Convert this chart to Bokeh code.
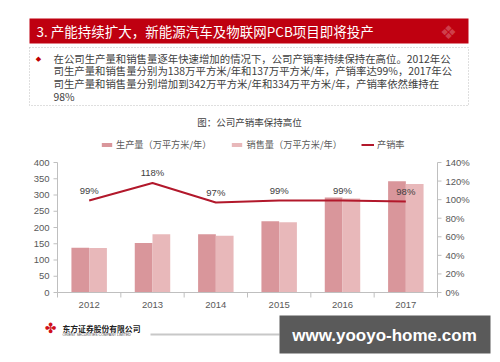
from bokeh.plotting import figure
from bokeh.models import Range1d, ColumnDataSource, Legend, LegendItem
from bokeh.transform import dodge
from bokeh.core.properties import value
from bokeh.embed import file_html
from bokeh.resources import INLINE

# ---- data ----
years = ["2012", "2013", "2014", "2015", "2016", "2017"]
production = [138, 152, 179, 219, 292, 342]
sales = [137, 179, 175, 216, 289, 334]
rate = [0.99, 1.18, 0.97, 0.99, 0.99, 0.98]
rate_labels = ["99%", "118%", "97%", "99%", "99%", "98%"]
left_ticks = [0, 50, 100, 150, 200, 250, 300, 350, 400]
right_ticks = [0, 0.2, 0.4, 0.6, 0.8, 1.0, 1.2, 1.4]
right_tick_labels = ["0%", "20%", "40%", "60%", "80%", "100%", "120%", "140%"]

title_text = "3. 产能持续扩大，新能源汽车及物联网PCB项目即将投产"
body_lines = [
    "在公司生产量和销售量逐年快速增加的情况下，公司产销率持续保持在高位。2012年公",
    "司生产量和销售量分别为138万平方米/年和137万平方米/年，产销率达99%，2017年公",
    "司生产量和销售量分别增加到342万平方米/年和334万平方米/年，产销率依然维持在",
    "98%",
]
chart_title = "图：公司产销率保持高位"
legend_names = ["生产量（万平方米/年）", "销售量（万平方米/年）", "产销率"]
company = "东方证券股份有限公司"
company_en = "ORIENT SECURITIES COMPANY LIMITED"
watermark = "www.yooyo-home.com"

CJK = "Noto Sans CJK SC"
LAT = "Liberation Sans"
PROD_C = "#D9969B"
SALES_C = "#E8B8BA"
LINE_C = "#B2182B"
AX_C = "#BFBFBF"
TXT_C = "#595959"

# ---- layout (canvas pixels, y from top) ----
W, H = 500, 362
PL, PR, PT, PB = 57, 437, 162, 292          # chart plot area
YMAX, RMAX = 400, 1.4
n = len(years)
cat_w = (PR - PL) / n
px_per_val = (PB - PT) / YMAX
px_per_rate = (PB - PT) / RMAX

p = figure(width=W, height=H, output_backend="svg", toolbar_location=None, title=None,
           x_range=Range1d(0, W), y_range=Range1d(H, 0),
           x_axis_location=None, y_axis_location=None, min_border=0)
p.xgrid.visible = False
p.ygrid.visible = False
p.outline_line_color = None
p.background_fill_color = "white"
p.border_fill_color = "white"
p.extra_x_ranges = {"cat": Range1d(-0.5 - PL / cat_w, n - 0.5 + (W - PR) / cat_w)}
p.extra_y_ranges = {
    "val": Range1d(-(H - PB) / px_per_val, YMAX + PT / px_per_val),
    "rate": Range1d(-(H - PB) / px_per_rate, RMAX + PT / px_per_rate),
}

# ---------- header + text ----------
p.quad(left=[29], right=[468], top=[18], bottom=[43], fill_color="#BF0010", line_color=None)
p.text(x=[36], y=[30.5], text=[title_text], text_font=value(CJK), text_font_size="13.5px",
       text_color="white", text_baseline="middle")
p.text(x=[448], y=[31], text=["❖"], text_font=value("DejaVu Sans"), text_font_size="19px",
       text_color="white", text_alpha=0.25, text_align="center", text_baseline="middle")
p.quad(left=[29], right=[468], top=[47], bottom=[105], fill_alpha=0,
       line_color=AX_C, line_width=1, line_dash="1 2")
p.text(x=[38], y=[58], text=["◆"], text_font=value("DejaVu Sans"), text_font_size="7px",
       text_color="#C00000", text_align="center", text_baseline="middle")
p.text(x=[53] * len(body_lines), y=[57.5 + i * 12.8 for i in range(len(body_lines))],
       text=body_lines, text_font=value(CJK), text_font_size="10.4px",
       text_color="#404040", text_baseline="middle")
p.text(x=[249], y=[121], text=[chart_title], text_font=value(CJK), text_font_size="9.5px",
       text_color="#404040", text_align="center", text_baseline="middle")

# ---------- chart ----------
idx = list(range(n))
src = ColumnDataSource(dict(x=idx, year=years, production=production, sales=sales,
                            rate=rate, rate_label=rate_labels))

r_prod = p.vbar(x=dodge("x", -0.14), top="production", bottom=0, width=0.28, source=src,
                x_range_name="cat", y_range_name="val", fill_color=PROD_C, line_color=None)
r_sales = p.vbar(x=dodge("x", 0.14), top="sales", bottom=0, width=0.28, source=src,
                 x_range_name="cat", y_range_name="val", fill_color=SALES_C, line_color=None)
r_line = p.line(x="x", y="rate", source=src, x_range_name="cat", y_range_name="rate",
                line_color=LINE_C, line_width=2)
p.text(x="x", y="rate", text="rate_label", source=src, x_range_name="cat",
       y_range_name="rate", y_offset=-10, text_align="center", text_baseline="middle",
       text_font=value(LAT), text_font_size="9.5px", text_color="#404040")

# left axis (values)
p.segment(x0=[PL], x1=[PL], y0=[0], y1=[YMAX], y_range_name="val", line_color=AX_C)
p.segment(x0=[PL - 4] * len(left_ticks), x1=[PL] * len(left_ticks), y0=left_ticks,
          y1=left_ticks, y_range_name="val", line_color=AX_C)
p.text(x=[PL - 8] * len(left_ticks), y=left_ticks, text=[str(t) for t in left_ticks],
       y_range_name="val", text_align="right", text_baseline="middle",
       text_font=value(LAT), text_font_size="9.5px", text_color=TXT_C)
# right axis (rate)
p.segment(x0=[PR], x1=[PR], y0=[0], y1=[RMAX], y_range_name="rate", line_color=AX_C)
p.segment(x0=[PR] * len(right_ticks), x1=[PR + 4] * len(right_ticks), y0=right_ticks,
          y1=right_ticks, y_range_name="rate", line_color=AX_C)
p.text(x=[PR + 8] * len(right_ticks), y=right_ticks, text=right_tick_labels,
       y_range_name="rate", text_align="left", text_baseline="middle",
       text_font=value(LAT), text_font_size="9.5px", text_color=TXT_C)
# bottom axis (years)
bounds = [i - 0.5 for i in range(n + 1)]
p.segment(x0=[bounds[0]], x1=[bounds[-1]], y0=[PB], y1=[PB], x_range_name="cat",
          line_color=AX_C)
p.segment(x0=bounds, x1=bounds, y0=[PB] * len(bounds), y1=[PB + 5] * len(bounds),
          x_range_name="cat", line_color=AX_C)
p.text(x=idx, y=[PB + 12.5] * n, text=years, x_range_name="cat", text_align="center",
       text_baseline="middle", text_font=value(LAT), text_font_size="9.5px",
       text_color=TXT_C)

legend = Legend(items=[LegendItem(label=legend_names[0], renderers=[r_prod]),
                       LegendItem(label=legend_names[1], renderers=[r_sales]),
                       LegendItem(label=legend_names[2], renderers=[r_line])],
                orientation="horizontal", location=(100, H - 151),
                border_line_color=None, background_fill_alpha=0,
                label_text_font=CJK, label_text_font_size="9.2px", label_text_color=TXT_C,
                glyph_width=13, glyph_height=5, label_height=5, label_standoff=3,
                spacing=19, padding=0, margin=0)
p.add_layout(legend)

# ---------- footer ----------
p.text(x=[50], y=[327], text=["✤"], text_font=value("DejaVu Sans"), text_font_size="14px",
       text_color="#D0101B", text_align="center", text_baseline="middle")
p.text(x=[62], y=[328], text=[company], text_font=value(CJK), text_font_size="7.8px",
       text_font_style="bold", text_color="#222222", text_baseline="middle")
p.text(x=[62], y=[334], text=[company_en], text_font=value(LAT),
       text_font_size="3.5px", text_color="#444444", text_baseline="middle")
p.quad(left=[150], right=[279], top=[333], bottom=[335], fill_color="#C8C8C8", line_color=None)
p.quad(left=[279], right=[490], top=[315], bottom=[353], fill_color="#5A5A5A", line_color=None)
p.text(x=[384], y=[335], text=[watermark], text_font=value(LAT),
       text_font_size="17px", text_font_style="bold", text_color="white",
       text_align="center", text_baseline="middle")

open("out.html", "w").write(file_html(p, INLINE))
